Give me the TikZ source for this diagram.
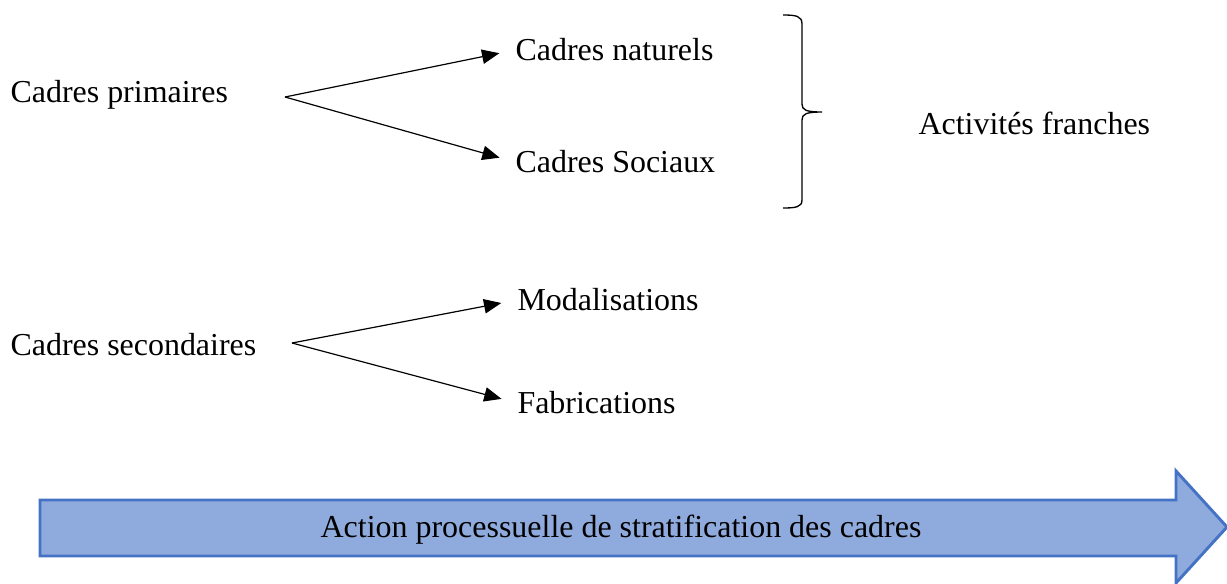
\documentclass[tikz,border=0pt]{standalone}
\usepackage{fontspec}
\setmainfont{Liberation Serif}
\usetikzlibrary{arrows.meta}
\definecolor{flechefond}{HTML}{8FAADC}
\definecolor{flechebord}{HTML}{4472C4}
\tikzset{
  cadre/.style={anchor=west,inner sep=0pt,font=\fontsize{12}{14}\selectfont},
  fourche/.style={line width=0.45pt,-{Triangle[length=6.5pt,width=5.4pt]},shorten >=6pt}
}
\begin{document}
\begin{tikzpicture}[x=0.0132cm,y=-0.0132cm]
			\useasboundingbox (0,0) rectangle (1227,583);
			% cadres primaires
			\node[cadre] (prim) at (10,95) {Cadres primaires};
			\coordinate (fp) at (285,97);
			\node[cadre] (nat) at (515,50) {Cadres naturels};
			\node[cadre] (soc) at (515,162) {Cadres Sociaux};
			\draw[fourche] (fp) -- (nat.west);
			\draw[fourche] (fp) -- (soc.west);
			% accolade
			\draw[line width=0.5pt] (783,15) .. controls (796,15) and (802,16) .. (802,24)
				-- (802,104) .. controls (802,110) and (806,112) .. (822,112)
				.. controls (806,112) and (802,114) .. (802,120)
				-- (802,200) .. controls (802,207) and (796,208) .. (783,208);
			\node[cadre] (franc) at (918,123) {Activités franches};
			% cadres secondaires
			\node[cadre] (sec) at (10,345) {Cadres secondaires};
			\coordinate (fs) at (292,343);
			\node[cadre] (mod) at (517,300) {Modalisations};
			\node[cadre] (fab) at (517,403) {Fabrications};
			\draw[fourche] (fs) -- (mod.west);
			\draw[fourche] (fs) -- (fab.west);
			% grande fleche
			\draw[line width=1.1pt,draw=flechebord,fill=flechefond,line join=miter]
				(40,500) -- (1176,500) -- (1176,471) -- (1227,527) -- (1176,583)
				-- (1176,556) -- (40,556) -- cycle;
			\node[cadre,anchor=center] (action) at (621,530) {Action processuelle de stratification des cadres};
\end{tikzpicture}
\end{document}
